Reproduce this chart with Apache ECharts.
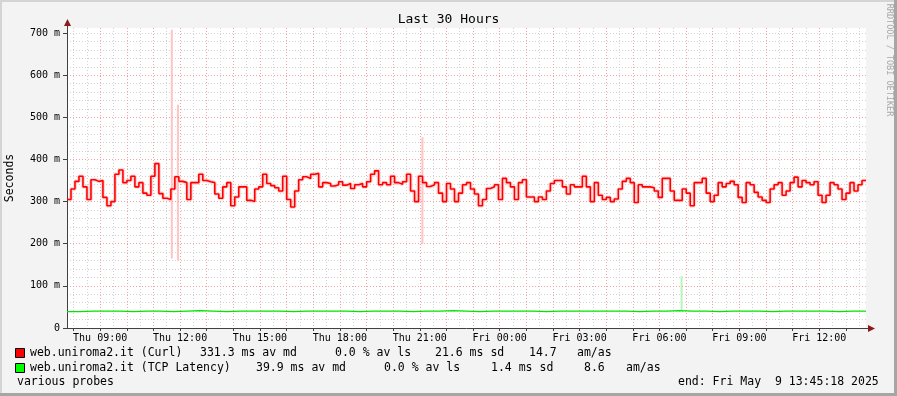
<!DOCTYPE html>
<html>
<head>
<meta charset="utf-8">
<script src="https://cdn.jsdelivr.net/npm/echarts@6/dist/echarts.min.js"></script>
<style>
html,body{margin:0;padding:0;background:#f3f3f3;}
#c{width:897px;height:396px;}
</style>
</head>
<body>
<div id="c"></div>
<script>
// ---- time frame (hours since Thu 00:00) ----
const startHour = 7.755;   // Thu 07:45:18
const endHour = 37.755;    // Fri 13:45:18
const curlStep = 0.15;     // hours per curl sample
const tcpStep = 0.5;       // hours per tcp sample

// ---- tick values ----
const yMajorTicks = [0, 100, 200, 300, 400, 500, 600, 700];
const xHourTicks = [8,9,10,11,12,13,14,15,16,17,18,19,20,21,22,23,24,25,26,27,28,29,30,31,32,33,34,35,36,37];
const xLabelTicks = [9, 12, 15, 18, 21, 24, 27, 30, 33, 36];
const xLabelTexts = ['Thu 09:00','Thu 12:00','Thu 15:00','Thu 18:00','Thu 21:00','Fri 00:00','Fri 03:00','Fri 06:00','Fri 09:00','Fri 12:00'];

// ---- web.uniroma2.it (Curl) median, ms ----
const curlA = [305,330,348,360,335,305,352,348,350,310,290,300,365,375,345,350,360,335,345,320,315,360,390,319,308,305,330,359,348,345,305,345,345,365,350,347,345,318,308,335];
const curlB = [345,290,311,335,335,303,300,330,335,365,343,338,333,325,360,305,287,325,352,359,355,365,367,335,345,343,337,340,347,339,343,331,340,343,335,347,365,373,340,345];
const curlC = [340,360,345,341,347,365,325,300,360,345,336,340,345,320,300,343,330,300,320,340,345,330,318,290,305,331,335,340,305,355,345,335,305,345,352,311,311,300,311,305];
const curlD = [325,343,350,350,335,318,340,335,335,360,335,300,345,315,305,310,300,306,330,348,355,345,298,340,335,335,333,325,310,355,355,325,303,303,330,320,290,345,345,355];
const curlE = [320,300,315,345,335,343,348,340,310,298,345,340,322,311,303,298,330,340,345,315,325,345,358,335,350,345,340,347,315,298,315,345,340,330,305,320,345,325,340,350];

// ---- web.uniroma2.it (TCP Latency) median, ms ----
const tcpMs = [39,40,40,40,39,40,40,39,40,41,40,39,40,40,40,40,39,40,40,40,40,39,40,40,40,39,40,40,41,40,39,40,40,40,40,39,40,40,40,40,40,40,39,40,40,41,40,40,39,40,40,40,39,40,40,40,40,39,40,40];

// ---- isolated smoke spikes (hour, low ms, high ms) ----
const curlSpikeHours = [11.69, 11.92, 21.10];
const curlSpikeLow = [165, 160, 200];
const curlSpikeHigh = [708, 530, 453];
const tcpSpikeHours = [30.83];
const tcpSpikeLow = [42];
const tcpSpikeHigh = [123];

// ---- legend texts ----
const legendRows = [
  ['web.uniroma2.it (Curl)', '331.3 ms av md', '0.0 % av ls', '21.6 ms sd', '14.7', 'am/as'],
  ['web.uniroma2.it (TCP Latency)', '39.9 ms av md', '0.0 % av ls', '1.4 ms sd', '8.6', 'am/as']
];
const legendColors = ['#ff0000', '#00ff00'];
const footerLeft = 'various probes';
const footerRight = 'end: Fri May  9 13:45:18 2025';

// ---------------------------------------------------------
const curlMs = curlA.concat(curlB, curlC, curlD, curlE);
const curlData = curlMs.map((v, i) => [startHour + i * curlStep, v]);
curlData.push([endHour, curlMs[curlMs.length - 1]]);
const tcpData = tcpMs.map((v, i) => [startHour + i * tcpStep, v]);
tcpData.push([endHour, tcpMs[tcpMs.length - 1]]);

const MONO = '"DejaVu Sans Mono", monospace';
const MAJOR = '#f0a4a4';
const MINOR = '#d2d2d2';

const spikeSeries = [];
curlSpikeHours.forEach((h, i) => spikeSeries.push({
  type: 'line', silent: true, symbol: 'none', z: 1,
  data: [[h, curlSpikeLow[i]], [h, curlSpikeHigh[i]]],
  lineStyle: { color: '#ffc4c4', width: 2 }
}));
tcpSpikeHours.forEach((h, i) => spikeSeries.push({
  type: 'line', silent: true, symbol: 'none', z: 1,
  data: [[h, tcpSpikeLow[i]], [h, tcpSpikeHigh[i]]],
  lineStyle: { color: '#b8f5b8', width: 2 }
}));

const colX = [[30, 200, 335, 435, 529, 577], [30, 256, 384, 491, 584, 626]];
const rowY = [353, 368];
const graphics = [
  { type: 'rect', shape: { x: 0, y: 0, width: 897, height: 2 }, style: { fill: '#d4d4d4' }, silent: true },
  { type: 'rect', shape: { x: 0, y: 0, width: 2, height: 396 }, style: { fill: '#d4d4d4' }, silent: true },
  { type: 'rect', shape: { x: 0, y: 393, width: 897, height: 3 }, style: { fill: '#a6a6a6' }, silent: true },
  { type: 'rect', shape: { x: 894, y: 0, width: 3, height: 396 }, style: { fill: '#a6a6a6' }, silent: true },
  // axis extensions and arrows
  { type: 'line', shape: { x1: 67.5, y1: 28, x2: 67.5, y2: 24 }, style: { stroke: '#404040', lineWidth: 1 }, silent: true },
  { type: 'polygon', shape: { points: [[67.5, 19], [64, 26], [71, 26]] }, style: { fill: '#8b1a1a' }, silent: true },
  { type: 'line', shape: { x1: 866, y1: 328.5, x2: 869, y2: 328.5 }, style: { stroke: '#404040', lineWidth: 1 }, silent: true },
  { type: 'polygon', shape: { points: [[875, 328.5], [868, 325], [868, 332]] }, style: { fill: '#8b1a1a' }, silent: true },
  // signature
  { type: 'text', x: 889, y: 60, rotation: -Math.PI / 2, silent: true,
    style: { text: 'RRDTOOL / TOBI OETIKER', font: '8.5px ' + MONO, fill: '#a8a8a8', align: 'center', verticalAlign: 'middle' } },
  { type: 'text', left: 17, top: 376, silent: true, style: { text: footerLeft, font: '11.5px ' + MONO, fill: '#000' } },
  { type: 'text', left: 678, top: 376, silent: true, style: { text: footerRight, font: '11.5px ' + MONO, fill: '#000' } }
];
legendRows.forEach((row, r) => {
  graphics.push({ type: 'rect', shape: { x: 15.5, y: rowY[r] - 4.5, width: 9, height: 9 },
    style: { fill: legendColors[r], stroke: '#000', lineWidth: 1 }, silent: true });
  row.forEach((t, c) => graphics.push({
    type: 'text', x: colX[r][c], y: rowY[r], silent: true,
    style: { text: t, font: '11.5px ' + MONO, fill: '#000', verticalAlign: 'middle' }
  }));
});

const chart = echarts.init(document.getElementById('c'), null, { renderer: 'canvas' });
chart.setOption({
  animation: false,
  backgroundColor: '#f3f3f3',
  title: {
    text: 'Last 30 Hours', left: 'center', top: 13, padding: 0,
    textStyle: { fontFamily: MONO, fontSize: 13, fontWeight: 'normal', color: '#000' }
  },
  grid: { left: 67, right: 31, top: 28, bottom: 68, show: true, backgroundColor: '#ffffff', borderWidth: 0,
          containLabel: false, outerBoundsMode: 'none' },
  xAxis: [
    {
      type: 'value', min: startHour, max: endHour, minInterval: 0.5, maxInterval: 0.5,
      position: 'top', z: 1,
      axisLine: { show: false }, axisTick: { show: false }, axisLabel: { show: false },
      splitLine: { show: true, showMinLine: false, showMaxLine: false, lineStyle: { color: MINOR, type: [1, 2], width: 1 } }
    },
    {
      type: 'value', min: startHour, max: endHour, minInterval: 1, maxInterval: 1,
      position: 'bottom', z: 2,
      axisLine: { show: true, onZero: false, lineStyle: { color: '#404040', width: 1 } },
      axisTick: { show: true, customValues: xHourTicks, length: 3, lineStyle: { color: '#404040' } },
      axisLabel: {
        show: true, customValues: xLabelTicks, margin: 5,
        fontFamily: MONO, fontSize: 10, color: '#000',
        formatter: v => { const i = xLabelTicks.indexOf(Math.round(v * 1000) / 1000); return i >= 0 ? xLabelTexts[i] : ''; }
      },
      splitLine: { show: true, showMinLine: false, showMaxLine: false, lineStyle: { color: MAJOR, type: [1, 2], width: 1 } }
    }
  ],
  yAxis: [
    {
      type: 'value', min: 0, max: 712, interval: 20, position: 'right', z: 1,
      axisLine: { show: false }, axisTick: { show: false }, axisLabel: { show: false },
      splitLine: { show: true, showMinLine: false, showMaxLine: false, lineStyle: { color: MINOR, type: [1, 2], width: 1 } }
    },
    {
      type: 'value', min: 0, max: 712, interval: 100, position: 'left', z: 2,
      name: 'Seconds', nameLocation: 'middle', nameRotate: 90, nameGap: 51,
      nameTextStyle: { fontFamily: MONO, fontSize: 11.5, color: '#000' },
      axisLine: { show: true, onZero: false, lineStyle: { color: '#404040', width: 1 } },
      axisTick: { show: true, customValues: yMajorTicks, length: 4, lineStyle: { color: '#404040' } },
      axisLabel: {
        show: true, customValues: yMajorTicks, margin: 7,
        fontFamily: MONO, fontSize: 10, color: '#000',
        formatter: v => (v === 0 ? '0' : (v % 100 === 0 ? v + ' m' : ''))
      },
      splitLine: { show: true, showMinLine: false, showMaxLine: false, lineStyle: { color: MAJOR, type: [1, 2], width: 1 } }
    }
  ],
  series: [
    {
      name: 'curl smoke', type: 'line', xAxisIndex: 1, yAxisIndex: 1, step: 'end', data: curlData,
      symbol: 'none', silent: true, z: 1, lineStyle: { color: '#ffd9d9', width: 4 }
    },
    ...spikeSeries.map(s => Object.assign(s, { xAxisIndex: 1, yAxisIndex: 1 })),
    {
      name: 'web.uniroma2.it (Curl)', type: 'line', xAxisIndex: 1, yAxisIndex: 1, step: 'end', data: curlData,
      symbol: 'none', z: 3, lineStyle: { color: '#ff0000', width: 1.6 }
    },
    {
      name: 'web.uniroma2.it (TCP Latency)', type: 'line', xAxisIndex: 1, yAxisIndex: 1, step: 'end', data: tcpData,
      symbol: 'none', z: 3, lineStyle: { color: '#00e600', width: 1.3 }
    }
  ],
  graphic: graphics
});
</script>
</body>
</html>
